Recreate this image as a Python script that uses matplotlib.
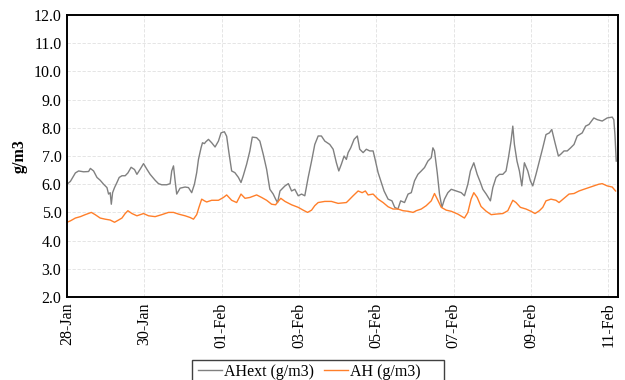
import numpy as np
import pandas as pd
import matplotlib
matplotlib.use('agg')
import matplotlib.pyplot as plt
import matplotlib.dates as mdates
from matplotlib.patches import Rectangle

# hours since 28-Jan 00:00
ahext_hours = [0, 2.1, 5.2, 7.2, 10.3, 13.4, 14.5, 16.5, 18.6, 20.6, 22.7, 24.8, 25.8, 26.8, 27.5,
               28.3, 29.5, 31.0, 32.4, 34.1, 36.1, 37.8, 39.8, 41.9, 43.4, 45.4, 47.5, 49.6, 51.6,
               54.7, 56.8, 58.8, 61.9, 64.0, 65.0, 66.1, 67.1, 68.1, 70.2, 73.3, 75.4, 77.4, 79.1,
               80.5, 81.6, 83.2, 84.1, 85.3, 86.1, 87.8, 89.8, 91.9, 94.0, 95.6, 97.7, 99.1, 100.5,
               102.2, 104.2, 106.4, 108.0, 109.4, 111.5, 113.5, 115.0, 117.7, 119.7, 121.8, 123.9,
               125.9, 128.0, 129.5, 130.7, 132.2, 135.3, 137.4, 139.4, 141.4, 143.5, 145.6, 147.6,
               149.7, 151.8, 153.8, 155.9, 157.9, 160.0, 163.1, 165.2, 167.2, 168.7, 170.3, 172.0,
               173.4, 174.5, 176.1, 178.2, 180.2, 181.7, 183.8, 185.8, 187.9, 190.0, 191.0, 193.1,
               195.1, 196.8, 199.3, 201.7, 203.4, 205.4, 207.1, 209.5, 211.7, 213.7, 215.7, 217.8,
               219.9, 221.9, 224.0, 226.1, 227.1, 228.1, 229.8, 231.2, 232.7, 234.3, 236.4, 238.5,
               241.5, 244.7, 246.7, 248.8, 250.4, 252.5, 254.6, 256.6, 258.1, 260.2, 262.8, 264.3,
               266.3, 268.4, 270.5, 272.5, 274.0, 275.6, 276.7, 277.7, 279.3, 280.8, 282.3, 283.9,
               286.0, 287.6, 289.1, 291.1, 293.2, 295.3, 297.3, 299.4, 300.9, 302.9, 305.0, 306.4,
               308.5, 310.5, 312.6, 314.7, 316.7, 319.8, 321.9, 324.0, 327.0, 329.1, 332.2, 335.3,
               338.4, 339.4, 340.1, 340.9]
ahext_vals = [6.0, 6.1, 6.4, 6.47, 6.44, 6.45, 6.56, 6.47, 6.24, 6.14, 6.0, 5.88, 5.65, 5.7, 5.29,
              5.7, 5.88, 6.06, 6.24, 6.3, 6.3, 6.4, 6.6, 6.52, 6.35, 6.53, 6.73, 6.53, 6.35,
              6.14, 6.02, 5.98, 5.98, 6.02, 6.47, 6.65, 6.12, 5.65, 5.86, 5.9, 5.88, 5.7, 6.0,
              6.41, 6.88, 7.29, 7.47, 7.44, 7.5, 7.59, 7.47, 7.32, 7.53, 7.82, 7.86, 7.7, 7.12,
              6.47, 6.41, 6.24, 6.06, 6.3, 6.71, 7.18, 7.67, 7.65, 7.53, 7.06, 6.53,
              5.82, 5.65, 5.47, 5.35, 5.76, 5.94, 6.02, 5.76, 5.82, 5.59, 5.65, 5.59,
              6.24, 6.82, 7.41, 7.71, 7.71, 7.53, 7.41, 7.24, 6.76, 6.47, 6.71, 7.0,
              6.88, 7.12, 7.29, 7.59, 7.71, 7.24, 7.12, 7.24, 7.18, 7.18, 6.94, 6.41,
              6.06, 5.76, 5.47, 5.41, 5.18, 5.12, 5.41, 5.35, 5.65, 5.7, 6.12, 6.35,
              6.47, 6.59, 6.82, 6.94, 7.29, 7.18, 6.41, 5.65, 5.18, 5.47, 5.7, 5.82,
              5.76, 5.7, 5.59, 6.0, 6.47, 6.76, 6.35, 6.06, 5.82, 5.65, 5.41, 5.88,
              6.24, 6.35, 6.35, 6.47, 6.94, 7.53, 8.06, 7.41, 6.82, 6.47, 5.94, 6.76,
              6.47, 6.12, 5.94, 6.35, 6.82, 7.29, 7.76, 7.82, 7.94, 7.47, 7.0, 7.06,
              7.18, 7.18, 7.29, 7.41, 7.71, 7.82, 8.06, 8.12, 8.35, 8.29, 8.24, 8.35,
              8.38, 8.29, 7.76, 6.82]

ah_hours = [0, 2.1, 5.2, 8.3, 11.3, 15.1, 17.5, 20.6, 23.7, 26.8, 29.5, 32.0, 34.1, 36.1, 37.8,
            40.3, 43.4, 47.5, 50.6, 54.7, 58.8, 63.0, 66.1, 69.2, 73.3, 76.4, 78.5, 80.5, 81.9,
            83.6, 85.3, 86.7, 89.8, 94.0, 97.1, 99.1, 102.2, 105.3, 108.0, 110.5, 113.5, 117.7,
            120.8, 123.9, 127.0, 129.5, 130.1, 132.7, 135.3, 139.4, 143.5, 146.6, 149.3, 151.8,
            153.8, 155.9, 160.0, 164.1, 168.3, 173.4, 174.5, 177.6, 180.7, 183.2, 185.2, 186.9,
            190.0, 193.1, 196.2, 199.3, 202.4, 205.4, 208.6, 211.7, 214.8, 216.8, 219.9, 223.0,
            226.1, 228.1, 230.2, 232.3, 235.4, 238.5, 242.6, 246.7, 248.8, 250.8, 252.5, 254.6,
            257.0, 260.2, 263.3, 266.3, 270.5, 273.6, 276.7, 278.7, 281.4, 284.9, 288.0, 290.5,
            293.2, 295.3, 297.3, 300.4, 303.5, 305.4, 308.5, 311.6, 314.7, 317.8, 320.8, 323.9,
            327.0, 330.1, 332.2, 335.3, 338.4, 340.5]
ah_vals = [4.65, 4.7, 4.8, 4.85, 4.92, 5.0, 4.92, 4.8, 4.76, 4.73, 4.65, 4.73, 4.8, 4.96, 5.06,
           4.96, 4.88, 4.96, 4.88, 4.85, 4.92, 5.0, 5.0, 4.94, 4.88, 4.82, 4.76, 4.92, 5.18,
           5.47, 5.41, 5.37, 5.43, 5.43, 5.53, 5.62, 5.43, 5.35, 5.65, 5.5, 5.53, 5.62,
           5.53, 5.43, 5.29, 5.27, 5.32, 5.5, 5.39, 5.27, 5.18, 5.08, 5.0, 5.08,
           5.24, 5.35, 5.39, 5.39, 5.32, 5.35, 5.41, 5.59, 5.76, 5.7, 5.76, 5.62,
           5.65, 5.47, 5.35, 5.2, 5.12, 5.12, 5.06, 5.04, 5.0, 5.06, 5.12, 5.24,
           5.41, 5.67, 5.43, 5.18, 5.08, 5.04, 4.94, 4.8, 5.0, 5.47, 5.7, 5.53,
           5.21, 5.04, 4.92, 4.94, 4.96, 5.06, 5.43, 5.35, 5.18, 5.12, 5.04, 4.96,
           5.06, 5.18, 5.41, 5.47, 5.43, 5.35, 5.5, 5.65, 5.67, 5.76, 5.82, 5.88,
           5.94, 6.0, 6.02, 5.94, 5.9, 5.76]

start = pd.Timestamp('2019-01-28')
t_ext = start + pd.to_timedelta(ahext_hours, unit='h')
t_ah = start + pd.to_timedelta(ah_hours, unit='h')

plt.rcParams['font.family'] = ['Liberation Serif', 'DejaVu Serif']

fig = plt.figure(figsize=(6.25, 3.8), dpi=100)
ax = fig.add_axes([0.1072, 0.2184, 0.8816, 0.7421])

ax.plot(t_ext, ahext_vals, color='#808080', lw=1.0, label='AHext (g/m3)')
ax.plot(t_ah, ah_vals, color='#ff7f2a', lw=1.0, label='AH (g/m3)')

ax.set_ylim(2, 12)
ax.set_yticks(np.arange(2, 12.1, 1.0))
ax.yaxis.set_major_formatter(matplotlib.ticker.FormatStrFormatter('%.1f'))
ax.set_xlim(start, start + pd.Timedelta(hours=342))
ax.set_xticks(pd.date_range(start, periods=8, freq='2D'))
ax.xaxis.set_major_formatter(mdates.DateFormatter('%d-%b'))
plt.setp(ax.get_xticklabels(), rotation=90)
ax.tick_params(length=0, labelsize=11.5, pad=4)

ax.grid(True, color='#e0e0e0', ls=(0, (4, 2)), lw=0.6)
for s in ax.spines.values():
    s.set_linewidth(1.4)
    s.set_color('black')

ax.set_ylabel('g/m3', fontsize=11.5, fontweight='bold', labelpad=4)

# legend (Excel-like box, wider than its contents, running off the bottom)
leg = fig.legend(loc='upper left', bbox_to_anchor=(194 / 625, 0.0526), ncol=2,
                 frameon=False, fontsize=11.5, handlelength=1.5, handletextpad=0.15,
                 columnspacing=0.6, borderpad=0.25, borderaxespad=0)
fig.patches.append(Rectangle((192 / 625, -0.05), 252 / 625, 0.0526 + 0.05,
                             transform=fig.transFigure, fill=False,
                             edgecolor='#404040', lw=1.0))

fig.savefig('out.png', dpi=100)
